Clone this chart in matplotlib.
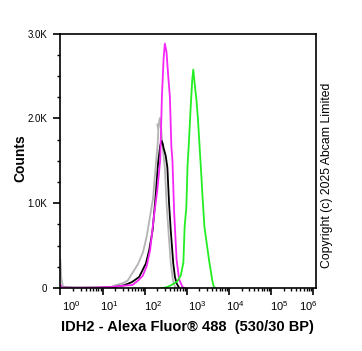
import numpy as np
import matplotlib
matplotlib.use("Agg")
import matplotlib.pyplot as plt
from matplotlib.transforms import ScaledTranslation
from matplotlib.ticker import FixedLocator, NullFormatter

plt.rcParams['font.family'] = ['Liberation Sans', 'DejaVu Sans']
plt.rcParams['mathtext.fontset'] = 'custom'
plt.rcParams['mathtext.rm'] = 'Liberation Sans'

# ---- data (log10 of fluorescence intensity, counts) ----
grey_log = [0.00, 0.02, 0.06, 0.3, 0.8, 1.2, 1.29, 1.5, 1.6, 1.84, 1.96, 2.05, 2.20, 2.26, 2.31, 2.33, 2.30, 2.32, 2.36, 2.39, 2.42, 2.48, 2.52, 2.57, 2.62, 2.67, 2.72, 2.76]
grey_cnt = [330, 120, 15, 8, 6, 10, 30, 60, 90, 280, 420, 610, 1060, 1420, 1700, 1924, 1930, 1880, 2003, 1900, 1700, 1420, 1000, 640, 300, 100, 15, 0]

black_log = [0.0, 0.5, 1.0, 1.3, 1.51, 1.7, 1.87, 2.03, 2.11, 2.19, 2.26, 2.32, 2.37, 2.405, 2.43, 2.45, 2.50, 2.54, 2.58, 2.62, 2.68, 2.72, 2.76, 2.82]
black_cnt = [3, 2, 4, 12, 32, 70, 130, 290, 450, 682, 1076, 1471, 1680, 1735, 1700, 1650, 1560, 1420, 1000, 682, 290, 130, 55, 0]

magenta_log = [0.0, 0.03, 0.3, 0.8, 1.2, 1.45, 1.71, 1.85, 1.95, 2.05, 2.13, 2.22, 2.30, 2.37, 2.41, 2.45, 2.48, 2.52, 2.56, 2.60, 2.635, 2.66, 2.70, 2.76, 2.82, 2.90, 2.95]
magenta_cnt = [40, 5, 2, 4, 12, 25, 35, 90, 140, 260, 446, 840, 1150, 1510, 2250, 2700, 2880, 2780, 2500, 2250, 1667, 1510, 900, 327, 100, 10, 0]

green_log = [2.40, 2.50, 2.62, 2.78, 2.86, 2.92, 2.95, 2.99, 3.02, 3.05, 3.09, 3.13, 3.156, 3.19, 3.23, 3.265, 3.31, 3.35, 3.37, 3.42, 3.53, 3.61, 3.645, 3.69]
green_cnt = [0, 5, 30, 80, 150, 300, 721, 950, 1450, 1700, 2100, 2450, 2575, 2400, 2220, 2000, 1630, 1300, 1116, 721, 327, 80, 12, 0]

x_ticks_exp = [0, 1, 2, 3, 4, 5, 6]
y_ticks = [0, 1000, 2000, 3000]
y_tick_labels = ["0", "1.0K", "2.0K", "3.0K"]

W, H = 362, 351
fig = plt.figure(figsize=(W / 100, H / 100), dpi=100)
ax = fig.add_axes([60 / W, 1 - 288 / H, (316 - 60) / W, (288 - 33.5) / H])

series = [
    (grey_log, grey_cnt, '#b4b4b4'),
    (black_log, black_cnt, '#000000'),
    (magenta_log, magenta_cnt, '#f526f5'),
    (green_log, green_cnt, '#22ee22'),
]
for lg, cnt, col in series:
    ax.plot(10 ** np.array(lg), cnt, color=col, lw=1.3, solid_joinstyle='round')

ax.set_xscale('log')
ax.set_xlim(10 ** -0.01, 10 ** 6.07)
ax.set_ylim(0, 3000)

ax.xaxis.set_major_locator(FixedLocator([10.0 ** e for e in x_ticks_exp]))
minors = [m * 10.0 ** e for e in range(0, 6) for m in range(2, 10)]
ax.xaxis.set_minor_locator(FixedLocator(minors))
ax.xaxis.set_minor_formatter(NullFormatter())
ax.set_xticklabels([r'$\mathregular{10^{%d}}$' % e for e in x_ticks_exp])

ax.set_yticks(y_ticks)
ax.set_yticklabels(y_tick_labels)
ax.yaxis.set_minor_locator(FixedLocator(np.arange(0, 3001, 250)))

ax.tick_params(axis='both', which='major', direction='out', length=5, width=1.2,
               color='black')
ax.tick_params(axis='x', which='major', labelsize=8, pad=3)
ax.tick_params(axis='y', which='major', labelsize=7, pad=4)
ax.tick_params(axis='both', which='minor', direction='out', length=2.5, width=1.0)

offsets = [11, 7, 9, 10, 6, 8, -5]
for lab, off in zip(ax.get_xticklabels(), offsets):
    lab.set_transform(lab.get_transform() + ScaledTranslation(off / 100, 0, fig.dpi_scale_trans))

for s in ax.spines.values():
    s.set_linewidth(1.2)
    s.set_color('black')

fig.text(20 / W, 1 - 158 / H, 'Counts', rotation=90, ha='center', va='center',
         fontsize=10, fontweight='bold')
fig.text(187 / W, 1 - 327 / H, 'IDH2 - Alexa Fluor\u00ae 488  (530/30 BP)', ha='center',
         va='center', fontsize=10.5, fontweight='bold')
fig.text(327 / W, 1 - 175 / H, 'Copyright (c) 2025 Abcam Limited', rotation=90,
         ha='center', va='center', fontsize=8.8)

fig.savefig('out.png', dpi=100)
